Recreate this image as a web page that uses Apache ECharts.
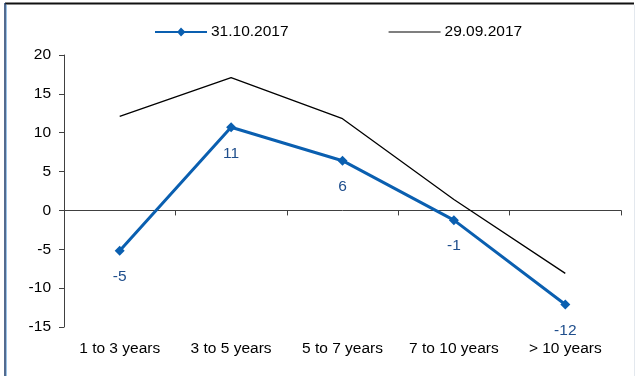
<!DOCTYPE html>
<html>
<head>
<meta charset="utf-8">
<style>
  html, body { margin: 0; padding: 0; background: #fff; }
  #chart { width: 637px; height: 376px; }
</style>
<script src="https://cdn.jsdelivr.net/npm/echarts@6/dist/echarts.min.js"></script>
</head>
<body>
<div id="chart"></div>
<script>
// Maturity buckets along the x axis
const categories = ['1 to 3 years', '3 to 5 years', '5 to 7 years', '7 to 10 years', '> 10 years'];
// Current month and previous month values
const seriesOct = [-5.2, 10.7, 6.4, -1.25, -12.1];
const seriesSep = [12.1, 17.1, 11.8, 1.4, -8.1];
const seriesNames = ['31.10.2017', '29.09.2017'];
// Value axis ticks
const yMin = -15, yMax = 20, yStep = 5;

const FONT = 'Liberation Sans, Arial, sans-serif';
const FS = 15.5;
const chart = echarts.init(document.getElementById('chart'), null, { renderer: 'canvas' });

chart.setOption({
  animation: false,
  backgroundColor: '#fff',
  textStyle: { fontFamily: FONT },
  graphic: [
    // frame around the chart area
    { type: 'line', shape: { x1: 5, y1: 3.5, x2: 634, y2: 3.5 }, style: { stroke: '#111', lineWidth: 2 } },
    { type: 'line', shape: { x1: 5, y1: 3, x2: 5, y2: 376 }, style: { stroke: '#1a3a6a', lineWidth: 1.5 } },
    { type: 'line', shape: { x1: 6.5, y1: 5, x2: 6.5, y2: 376 }, style: { stroke: '#9cc3e6', lineWidth: 1 } },
    { type: 'line', shape: { x1: 634.5, y1: 5, x2: 634.5, y2: 376 }, style: { stroke: '#e3e8ee', lineWidth: 1 } }
  ],
  legend: {
    top: 19,
    left: 150,
    itemWidth: 52,
    itemHeight: 14,
    itemGap: 100,
    textStyle: { fontFamily: FONT, fontSize: FS, color: '#000', padding: [0, 0, 0, -1] },
    data: [
      { name: seriesNames[0], icon: 'path://M0,6 L23,6 L26,2.5 L29.5,6 L52,6 L52,8 L29.5,8 L26,11.5 L23,8 L0,8 Z' },
      { name: seriesNames[1], icon: 'path://M0,6.4 L52,6.4 L52,7.6 L0,7.6 Z' }
    ]
  },
  grid: { left: 64, right: 16, top: 55, bottom: 49 },
  xAxis: [
    {
      type: 'category',
      data: categories,
      boundaryGap: true,
      position: 'bottom',
      axisLine: { show: false, onZero: false },
      axisTick: { show: false },
      axisLabel: { interval: 0, hideOverlap: false, fontFamily: FONT, fontSize: FS, color: '#000', margin: 14 }
    },
    {
      type: 'category',
      data: categories,
      boundaryGap: true,
      position: 'bottom',
      axisLine: { show: true, onZero: true, lineStyle: { color: '#404040', width: 1 } },
      axisTick: { show: true, interval: 0, inside: false, length: 5, lineStyle: { color: '#404040' } },
      axisLabel: { show: false }
    }
  ],
  yAxis: {
    type: 'value',
    min: yMin,
    max: yMax,
    interval: yStep,
    axisLine: { show: true, lineStyle: { color: '#404040', width: 1 } },
    axisTick: { show: true, inside: false, length: 5, lineStyle: { color: '#404040' } },
    splitLine: { show: false },
    axisLabel: { fontFamily: FONT, fontSize: FS, color: '#000', margin: 13 }
  },
  series: [
    {
      name: seriesNames[0],
      type: 'line',
      xAxisIndex: 0,
      data: seriesOct,
      symbol: 'diamond',
      symbolSize: 10,
      z: 3,
      lineStyle: { color: '#0a5fb0', width: 3 },
      itemStyle: { color: '#0a5fb0' },
      label: {
        show: true,
        position: 'bottom',
        distance: 13,
        fontFamily: FONT,
        fontSize: FS,
        color: '#1f4e8c',
        formatter: p => Math.round(p.value)
      }
    },
    {
      name: seriesNames[1],
      type: 'line',
      xAxisIndex: 0,
      data: seriesSep,
      symbol: 'none',
      showSymbol: false,
      z: 2,
      lineStyle: { color: '#000', width: 1.3 },
      itemStyle: { color: '#000' }
    }
  ]
});
</script>
</body>
</html>
